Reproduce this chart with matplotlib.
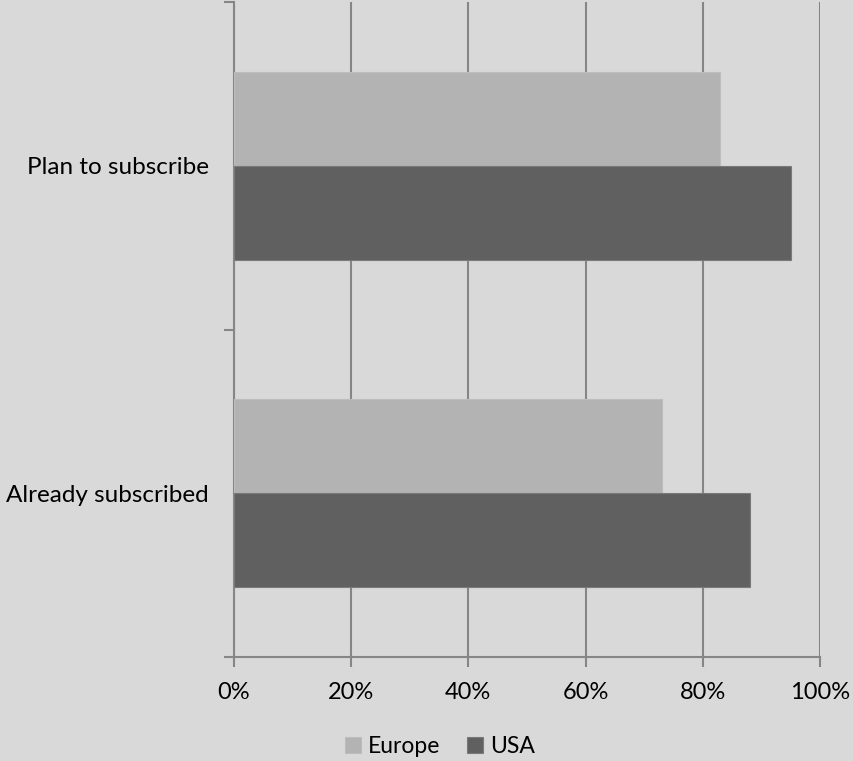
import numpy as np
from matplotlib import pyplot as plt
from matplotlib.ticker import FixedLocator, PercentFormatter

categories = ['Already subscribed', 'Plan to subscribe']
europe = [73, 83]
usa = [88, 95]
xticks = [0, 20, 40, 60, 80, 100]

plt.rcParams['font.family'] = ['Lato', 'DejaVu Sans']

bg = '#d9d9d9'
grid_c = '#868686'

fig = plt.figure(figsize=(8.54, 7.61), dpi=100, facecolor=bg)
ax = fig.add_axes([0.274, 0.137, 0.686, 0.860], facecolor=bg)

y = np.arange(len(categories))
h = 0.287
ax.barh(y + h / 2, europe, height=h, color='#b3b3b3', edgecolor='#bdbdbd',
        linewidth=0.8, label='Europe', zorder=3)
ax.barh(y - h / 2, usa, height=h, color='#606060', edgecolor='#7a7a7a',
        linewidth=0.8, label='USA', zorder=3)

ax.set_xlim(0, 100)
ax.set_ylim(-0.5, len(categories) - 0.5)

ax.set_xticks(xticks)
ax.xaxis.set_major_formatter(PercentFormatter(decimals=0))
ax.set_yticks(y)
ax.set_yticklabels(categories)
ax.yaxis.set_minor_locator(FixedLocator(np.arange(-0.5, len(categories), 1)))

ax.grid(axis='x', color=grid_c, linewidth=1.5, zorder=0)
for s in ['top', 'right']:
    ax.spines[s].set_visible(False)
for s in ['left', 'bottom']:
    ax.spines[s].set_color(grid_c)
    ax.spines[s].set_linewidth(1.5)

ax.tick_params(axis='x', length=7, width=1.5, color=grid_c, labelsize=17,
               pad=11, labelcolor='black')
ax.tick_params(axis='y', which='major', length=0, labelsize=17.5, pad=18,
               labelcolor='black')
ax.tick_params(axis='y', which='minor', length=7, width=1.5, color=grid_c)

handles, labels = ax.get_legend_handles_labels()
fig.legend(handles, labels, loc='lower center', bbox_to_anchor=(0.515, -0.022),
           ncol=2, frameon=False, fontsize=16.5, handlelength=0.7,
           handleheight=0.7, handletextpad=0.3, columnspacing=1.2)

fig.savefig('out.png', dpi=100, facecolor=bg)
